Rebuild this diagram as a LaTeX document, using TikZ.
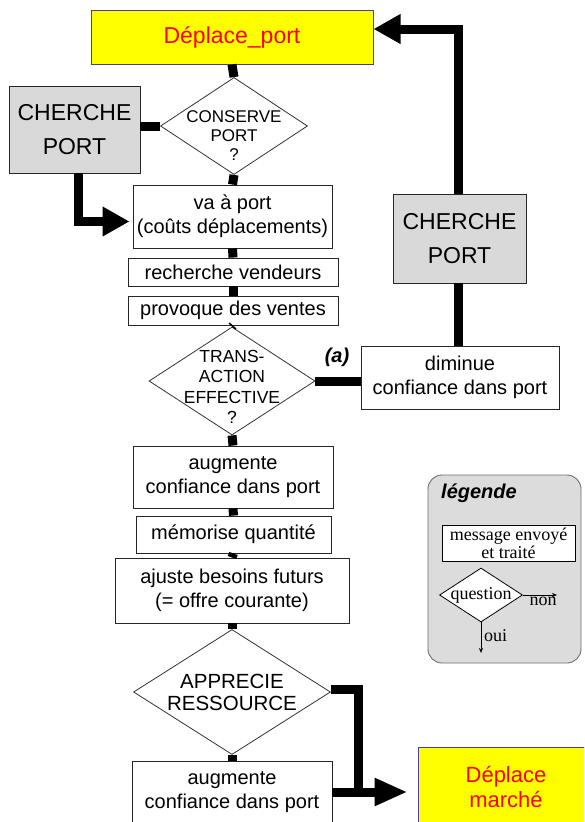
\documentclass[tikz,border=0pt]{standalone}
\usepackage{fontspec}
\setmainfont{Liberation Sans}
\newfontfamily\serifleg{Liberation Serif}
\usetikzlibrary{shapes.geometric,arrows.meta}
\definecolor{ybox}{HTML}{FFFF00}
\definecolor{rtext}{HTML}{FF0000}
\definecolor{bborder}{HTML}{4A3C9C}
\definecolor{gbox}{HTML}{D9D9D9}
\definecolor{lgfill}{HTML}{DCDCDC}
\definecolor{lgdraw}{HTML}{6E6E6E}
\begin{document}
\begin{tikzpicture}[x=1pt,y=-1pt,
  box/.style={draw=black!85, line width=0.9pt, fill=white, inner sep=0pt, align=center, font=\fontsize{20}{24}\selectfont},
  graybox/.style={box, fill=gbox, font=\fontsize{23}{34}\selectfont},
  yelbox/.style={draw=bborder, line width=1pt, fill=ybox, text=rtext, inner sep=0pt, align=center},
  dia/.style={diamond, draw=black!80, line width=0.8pt, fill=white, inner sep=0pt},
  diatext/.style={inner sep=0pt, align=center},
  conn/.style={line width=9pt, line join=miter},
  bigarrow/.style={conn, -{Triangle[length=27pt,width=28pt]}},
  thin/.style={line width=0.6pt, -{Stealth[length=5pt,width=4pt]}},
  legtext/.style={inner sep=0pt, font=\serifleg\fontsize{18}{18}\selectfont, align=center}
]
\useasboundingbox (0,0) rectangle (584,822);
\clip (0,0) rectangle (584,822);

% connectors first (under the boxes)
\coordinate (j2) at (358,791);
\coordinate (nonend) at (557,595);
\coordinate (ouiend) at (481,653);

% nodes
\node[yelbox, minimum width=282pt, minimum height=54pt, font=\fontsize{23}{26}\selectfont] (top) at (232,37) {Déplace\_port};
\node[dia, minimum width=147pt, minimum height=97pt] (d1) at (234,126) {};
\node[graybox, minimum width=131pt, minimum height=87pt] (cpL) at (74.5,129.5) {CHERCHE\\PORT};
\node[box, minimum width=199pt, minimum height=63pt] (va) at (232.5,216.5) {va à port\\(coûts déplacements)};
\node[box, minimum width=210pt, minimum height=28pt] (rech) at (233,272) {recherche vendeurs};
\node[box, minimum width=210pt, minimum height=29pt] (prov) at (233,310.5) {provoque des ventes};
\node[dia, minimum width=166pt, minimum height=108pt] (d2) at (232,381) {};
\node[box, minimum width=198pt, minimum height=63pt] (dim) at (460,377.5) {diminue\\confiance dans port};
\node[graybox, minimum width=133pt, minimum height=89pt] (cpR) at (459.5,238.5) {CHERCHE\\PORT};
\node[box, minimum width=200pt, minimum height=62pt] (aug1) at (233,477) {augmente\\confiance dans port};
\node[box, minimum width=195pt, minimum height=37pt] (mem) at (233.5,534.5) {mémorise quantité};
\node[box, minimum width=234pt, minimum height=65pt] (aju) at (232,590.5) {ajuste besoins futurs\\(= offre courante)};
\node[dia, minimum width=197pt, minimum height=125pt] (d3) at (232,692) {};
\node[box, minimum width=200pt, minimum height=62pt] (aug2) at (232,792) {augmente\\confiance dans port};
\node[yelbox, minimum width=176pt, minimum height=80pt, font=\fontsize{22}{25}\selectfont] (dm) at (506,787) {Déplace\\marché};

% connectors
\draw[conn] (top.south) -- (d1.north);
\draw[conn] (d1.west) -- (d1.west -| cpL.east);
\draw[bigarrow, shorten >=3pt] ([xshift=3.5pt]cpL.south) |- ([yshift=-5pt]va.west);
\draw[conn] (d1.south) -- (va.north);
\draw[conn] (va.south) -- (rech.north);
\draw[conn] (rech.south) -- (prov.north);
\draw[conn] (prov.south) -- (d2.north);
\draw[conn] (d2.east) -- (d2.east -| dim.west);
\draw[conn] ([xshift=-2pt]dim.north) -- ([xshift=-1.5pt]cpR.south);
\draw[bigarrow] ([xshift=-1.5pt]cpR.north) |- ([yshift=8pt]top.east);
\draw[conn] (d2.south) -- (aug1.north);
\draw[conn] (aug1.south) -- (mem.north);
\draw[conn] (mem.south) -- (aju.north);
\draw[conn] (aju.south) -- (d3.north);
\draw[conn] (d3.south) -- (aug2.north);
\draw[conn] ([yshift=3pt]d3.east) -| ([yshift=-4.5pt]j2);
\draw[conn, -{Triangle[length=33pt,width=26pt]}, shorten >=10pt] (aug2.east) -- (aug2.east -| dm.west);

% redraw diamonds' texts
\node[diatext, font=\fontsize{17}{19}\selectfont] (t1) at ([yshift=-10pt]d1.center) {CONSERVE\\PORT\\?};
\node[diatext, font=\fontsize{17.5}{20.3}\selectfont] (t2) at ([yshift=-6pt]d2.center) {TRANS-\\ACTION\\EFFECTIVE\\?};
\node[diatext, font=\fontsize{20.5}{22}\selectfont] (t3) at (d3.center) {APPRECIE\\RESSOURCE};
\node[inner sep=0pt, font=\fontsize{20}{24}\bfseries\itshape] (alab) at (337,357) {(a)};

% legend
\node[draw=lgdraw, fill=lgfill, rounded corners=14pt, line width=0.9pt, minimum width=153pt, minimum height=188pt] (leg) at (504.5,569) {};
\node[anchor=base west, inner sep=0pt, font=\fontsize{20}{24}\bfseries\itshape] (legt) at (441,498) {légende};
\node[draw=black, line width=0.9pt, fill=white, minimum width=133pt, minimum height=36pt, legtext] (lbox) at (508.5,543) {message envoyé\\et traité};
\node[dia, draw=black, minimum width=83pt, minimum height=54pt] (lq) at (481,595) {};
\node[legtext] (lqt) at (lq) {question};
\draw[thin] (lq.east) -- (nonend);
\draw[thin] (lq.south) -- (ouiend);
\node[legtext, anchor=north] (lnon) at (543,597) {non};
\node[legtext, anchor=west] (loui) at (484,636) {oui};
\end{tikzpicture}
\end{document}
